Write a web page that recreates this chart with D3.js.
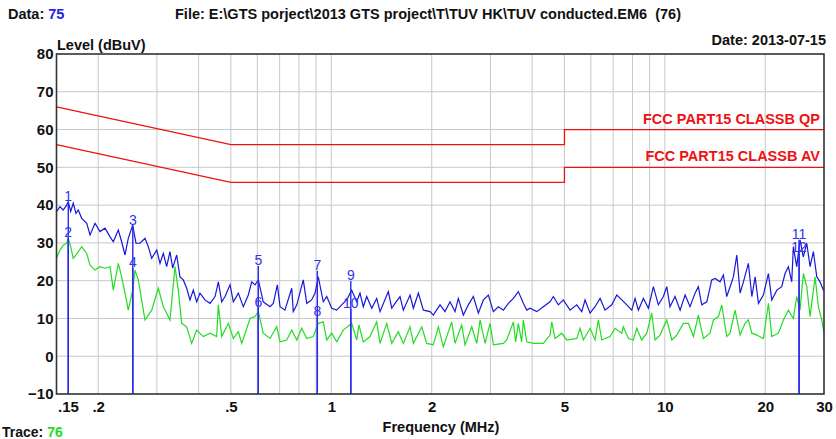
<!DOCTYPE html>
<html>
<head>
<meta charset="utf-8">
<script src="https://cdn.jsdelivr.net/npm/d3@7/dist/d3.min.js"></script>
<style>
  body { margin: 0; background: #fff; }
  svg { display: block; font-family: "Liberation Sans", Arial, sans-serif; font-weight: bold; }
</style>
</head>
<body>
<svg id="svg" width="836" height="439"></svg>
<script>
// axis ticks
const xTicks = [0.15, 0.2, 0.5, 1, 2, 5, 10, 20, 30];
const xTickLabels = [".15", ".2", ".5", "1", "2", "5", "10", "20", "30"];
const xGrid = [0.2, 0.3, 0.4, 0.5, 0.6, 0.7, 0.8, 0.9, 1, 2, 3, 4, 5, 6, 7, 8, 9, 10, 20];
const yTicks = [-10, 0, 10, 20, 30, 40, 50, 60, 70, 80];

// limit lines (MHz, dBuV)
const qpFreq = [0.15, 0.5, 5, 5, 30];
const qpLevel = [66, 56, 56, 60, 60];
const avFreq = [0.15, 0.5, 5, 5, 30];
const avLevel = [56, 46, 46, 50, 50];

// peak trace (blue)
const peakFreq = [0.150, 0.1536, 0.1571, 0.1609, 0.1627, 0.1654, 0.1684, 0.1716, 0.1743, 0.1785,
  0.1848, 0.1891, 0.1957, 0.2025, 0.2097, 0.2171, 0.2220, 0.2298, 0.2352, 0.2407,
  0.2462, 0.2538, 0.2597, 0.2669, 0.2763, 0.2827, 0.2894, 0.2996, 0.3065, 0.3136,
  0.3209, 0.3283, 0.3345, 0.3439, 0.3518, 0.3599, 0.3685, 0.3770, 0.3857, 0.3948,
  0.4039, 0.4182, 0.4329, 0.4482, 0.4585, 0.4694, 0.4802, 0.4971, 0.5085, 0.5263,
  0.5447, 0.5639, 0.5773, 0.5906, 0.6043, 0.625, 0.655, 0.670, 0.689, 0.702,
  0.726, 0.761, 0.769, 0.788, 0.824, 0.844, 0.873, 0.894, 0.914, 0.946,
  0.969, 1.003, 1.038, 1.074, 1.112, 1.151, 1.192, 1.219, 1.247, 1.277,
  1.322, 1.368, 1.400, 1.482, 1.518, 1.552, 1.607, 1.644, 1.722, 1.762,
  1.824, 1.888, 1.977, 2.022, 2.118, 2.192, 2.269, 2.349, 2.403, 2.488,
  2.575, 2.666, 2.760, 2.857, 2.957, 3.061, 3.168, 3.280, 3.395, 3.514,
  3.637, 3.765, 3.854, 3.943, 4.130, 4.321, 4.526, 4.631, 4.794, 4.962,
  5.197, 5.443, 5.634, 5.764, 5.967, 6.177, 6.394, 6.619, 6.932, 7.175,
  7.427, 7.688, 7.957, 8.141, 8.329, 8.622, 8.925, 9.238, 9.562, 9.897,
  10.13, 10.36, 10.73, 11.11, 11.50, 11.90, 12.32, 12.60, 12.90, 13.36,
  13.82, 14.14, 14.64, 14.98, 15.33, 15.69, 16.05, 16.43, 16.81, 17.20,
  17.80, 18.23, 18.65, 19.08, 19.74, 20.44, 20.92, 21.66, 22.41, 22.93,
  23.46, 24.01, 24.28, 24.85, 25.42, 26.01, 26.63, 27.25, 27.88, 28.54,
  29.20, 29.87, 30];
const peakLevel = [38.3, 39.6, 38.7, 40.0, 40.9, 38.3, 40.5, 37.8, 38.7, 36.5,
  35.2, 32.1, 35.2, 33.0, 33.9, 31.6, 30.3, 33.4, 30.3, 26.8,
  31.2, 34.7, 29.9, 29.9, 31.2, 29.0, 25.9, 28.1, 24.6, 27.2,
  23.7, 27.7, 23.3, 26.8, 21.0, 20.2, 18.0, 14.9, 17.5, 14.4,
  16.7, 14.9, 14.0, 15.8, 19.7, 14.4, 15.8, 18.9, 14.4, 16.7,
  13.1, 16.2, 19.7, 18.9, 20.2, 14.4, 13.1, 14.0, 18.9, 13.1,
  12.2, 18.0, 11.8, 13.6, 20.2, 14.0, 14.9, 16.7, 21.0, 14.4,
  15.8, 12.7, 12.2, 13.6, 14.9, 17.5, 14.4, 16.7, 13.1, 15.8,
  12.7, 15.3, 11.8, 17.1, 12.7, 14.0, 15.8, 12.2, 16.2, 12.7,
  16.7, 12.2, 11.8, 10.9, 13.6, 11.8, 14.4, 11.8, 15.3, 10.9,
  13.6, 15.8, 11.4, 14.9, 16.2, 11.8, 13.1, 12.2, 14.0, 15.3,
  17.1, 14.0, 12.2, 12.7, 11.8, 13.1, 14.4, 15.8, 13.6, 14.9,
  12.2, 13.6, 11.8, 14.9, 11.4, 13.1, 15.3, 12.2, 13.6, 16.2,
  14.9, 13.6, 12.2, 15.3, 12.2, 15.3, 12.7, 18.4, 13.6, 15.8,
  18.4, 13.1, 15.8, 12.2, 16.2, 13.1, 16.7, 18.4, 13.6, 14.4,
  20.2, 20.6, 19.7, 21.5, 15.8, 18.4, 21.0, 26.8, 16.7, 19.7,
  24.6, 15.8, 21.0, 14.0, 16.2, 21.9, 14.9, 17.5, 18.4, 21.9,
  23.7, 19.7, 29.0, 23.7, 30.8, 26.3, 29.9, 23.7, 27.7, 21.0,
  19.7, 17.5, 17.5];

// average trace (green)
const avgFreq = [0.150, 0.1536, 0.1571, 0.1609, 0.1627, 0.1654, 0.1684, 0.1716, 0.1743, 0.1785,
  0.1848, 0.1891, 0.1957, 0.2025, 0.2097, 0.2171, 0.2220, 0.2298, 0.2352, 0.2407,
  0.2462, 0.2538, 0.2579, 0.2638, 0.2763, 0.2894, 0.3029, 0.3136, 0.3209, 0.3283,
  0.3399, 0.3477, 0.3559, 0.3685, 0.3813, 0.3948, 0.4133, 0.4329, 0.4532, 0.4585,
  0.4694, 0.4913, 0.5085, 0.5263, 0.5387, 0.5706, 0.5906, 0.6043, 0.625, 0.655,
  0.686, 0.702, 0.735, 0.761, 0.788, 0.815, 0.844, 0.883, 0.914, 0.946,
  0.969, 1.003, 1.038, 1.086, 1.151, 1.192, 1.210, 1.247, 1.306, 1.368,
  1.400, 1.466, 1.518, 1.588, 1.644, 1.722, 1.762, 1.867, 1.932, 2.022,
  2.094, 2.167, 2.296, 2.349, 2.460, 2.517, 2.636, 2.729, 2.793, 2.891,
  2.991, 3.061, 3.280, 3.357, 3.514, 3.570, 3.637, 3.720, 3.765, 3.854,
  4.034, 4.130, 4.321, 4.526, 4.580, 4.686, 4.906, 5.080, 5.443, 5.568,
  5.696, 5.967, 6.177, 6.319, 6.469, 6.850, 7.090, 7.427, 7.509, 7.776,
  8.045, 8.236, 8.524, 8.825, 9.135, 9.345, 9.674, 10.13, 10.49, 10.86,
  11.36, 11.76, 12.18, 12.60, 13.04, 13.66, 13.98, 14.47, 14.81, 15.33,
  15.69, 16.24, 16.81, 17.40, 17.80, 18.23, 18.87, 19.74, 20.44, 20.92,
  21.89, 22.67, 23.46, 24.28, 24.85, 25.42, 26.01, 26.63, 27.25, 28.21,
  28.86, 29.54, 30];
const avgLevel = [25.9, 28.1, 29.4, 29.9, 31.2, 29.0, 25.9, 26.8, 27.7, 29.0,
  27.2, 24.1, 22.8, 23.7, 23.3, 23.7, 17.5, 24.6, 21.0, 16.7,
  12.2, 17.5, 22.8, 20.2, 9.6, 12.2, 18.0, 13.1, 11.4, 9.6,
  23.7, 17.5, 8.7, 7.8, 3.4, 6.9, 5.2, 6.1, 5.2, 13.6,
  5.2, 8.7, 4.7, 6.5, 3.4, 10.0, 10.5, 11.8, 6.1, 4.7,
  7.8, 3.8, 4.3, 6.9, 4.3, 7.4, 4.7, 5.2, 8.7, 9.1,
  4.3, 6.1, 3.8, 6.9, 8.7, 4.3, 8.3, 3.8, 5.2, 9.1,
  3.4, 8.7, 3.4, 6.5, 3.4, 7.8, 3.4, 7.8, 3.4, 3.0,
  7.8, 2.5, 9.1, 3.4, 8.3, 3.0, 7.8, 3.4, 9.6, 3.4,
  8.7, 3.0, 3.4, 4.3, 9.1, 3.8, 8.7, 3.8, 9.6, 3.8,
  3.4, 3.4, 3.4, 5.6, 9.1, 4.7, 6.1, 4.3, 4.7, 7.4,
  4.3, 7.4, 4.3, 9.6, 4.3, 5.2, 7.4, 6.1, 7.8, 4.7,
  4.3, 7.4, 4.3, 6.1, 11.4, 4.3, 5.6, 9.6, 4.3, 5.6,
  8.7, 8.7, 5.2, 10.9, 4.7, 6.1, 9.6, 10.5, 13.6, 5.2,
  6.1, 12.2, 5.6, 8.7, 9.6, 6.1, 5.6, 4.7, 14.0, 5.2,
  6.1, 9.6, 12.2, 10.0, 15.8, 12.2, 21.9, 18.4, 10.5, 21.0,
  13.1, 9.6, 6.1];

// markers
const markerNo = ["1", "2", "3", "4", "5", "6", "7", "8", "9", "10", "11", "12"];
const markerFreq = [0.1627, 0.1627, 0.254, 0.254, 0.604, 0.604, 0.908, 0.908, 1.144, 1.144, 25.26, 25.26];
const markerLevel = [40.9, 31.2, 34.5, 23.3, 23.9, 12.8, 22.6, 10.4, 19.9, 12.5, 30.8, 27.4];

const svg = d3.select("#svg");
const mLeft = 56.5, mRight = 824, mTop = 54, mBottom = 394;

const x = d3.scaleLog().domain([0.15, 30]).range([mLeft, mRight]);
const y = d3.scaleLinear().domain([-10, 80]).range([mBottom, mTop]);

// grid
svg.append("g").selectAll("line").data(xGrid).join("line")
  .attr("x1", d => x(d)).attr("x2", d => x(d))
  .attr("y1", mTop).attr("y2", mBottom)
  .attr("stroke", "#c8c8c8").attr("stroke-width", 1);
svg.append("g").selectAll("line").data(yTicks.slice(1, -1)).join("line")
  .attr("x1", mLeft).attr("x2", mRight)
  .attr("y1", d => y(d)).attr("y2", d => y(d))
  .attr("stroke", "#c8c8c8").attr("stroke-width", 1);

// axes (labels only)
const xAxisG = svg.append("g").attr("transform", "translate(0," + mBottom + ")")
  .call(d3.axisBottom(x).tickValues(xTicks).tickFormat((d, i) => xTickLabels[i]).tickSize(0).tickPadding(7));
const yAxisG = svg.append("g").attr("transform", "translate(" + mLeft + ",0)")
  .call(d3.axisLeft(y).tickValues(yTicks).tickFormat(d3.format("d")).tickSize(0).tickPadding(3));
[xAxisG, yAxisG].forEach(g => {
  g.select(".domain").remove();
  g.selectAll("text").attr("font-size", 15).attr("font-weight", "bold")
    .attr("font-family", "'Liberation Sans', Arial, sans-serif").attr("fill", "#111");
});
xAxisG.selectAll("text").filter((d, i) => i === 0).attr("text-anchor", "start").attr("dx", 1);

const line = d3.line().x(d => x(d[0])).y(d => y(d[1]));

// limit lines
svg.append("path").attr("d", line(d3.zip(qpFreq, qpLevel)))
  .attr("fill", "none").attr("stroke", "#ee1111").attr("stroke-width", 1.3);
svg.append("path").attr("d", line(d3.zip(avFreq, avLevel)))
  .attr("fill", "none").attr("stroke", "#ee1111").attr("stroke-width", 1.3);
svg.append("text").attr("x", 820).attr("y", y(60) - 6).attr("text-anchor", "end")
  .attr("font-size", 14.5).attr("fill", "#ee1111").text("FCC PART15 CLASSB QP");
svg.append("text").attr("x", 820).attr("y", y(50) - 6).attr("text-anchor", "end")
  .attr("font-size", 14.5).attr("fill", "#ee1111").text("FCC PART15 CLASSB AV");

// traces
svg.append("path").attr("d", line(d3.zip(avgFreq, avgLevel)))
  .attr("fill", "none").attr("stroke", "#22dd22").attr("stroke-width", 1.2);
svg.append("path").attr("d", line(d3.zip(peakFreq, peakLevel)))
  .attr("fill", "none").attr("stroke", "#1818d8").attr("stroke-width", 1.2);

// markers
const markers = d3.zip(markerNo, markerFreq, markerLevel);
svg.append("g").selectAll("line").data(markers).join("line")
  .attr("x1", d => x(d[1])).attr("x2", d => x(d[1]))
  .attr("y1", d => y(d[2])).attr("y2", mBottom)
  .attr("stroke", "#2a2aee").attr("stroke-width", 1.4);
svg.append("g").selectAll("text").data(markers).join("text")
  .attr("x", d => x(d[1])).attr("y", d => y(d[2]) - 1)
  .attr("text-anchor", "middle").attr("font-size", 14).attr("font-weight", "normal")
  .attr("fill", "#3333ee").text(d => d[0]);

// frame
svg.append("rect").attr("x", mLeft).attr("y", mTop).attr("width", mRight - mLeft).attr("height", mBottom - mTop)
  .attr("fill", "none").attr("stroke", "#333").attr("stroke-width", 1.6);

// header and titles
const hdr = svg.append("text").attr("x", 8).attr("y", 19).attr("font-size", 14.5).attr("fill", "#111");
hdr.append("tspan").text("Data: ");
hdr.append("tspan").attr("fill", "#2222ee").text("75");
svg.append("text").attr("x", 428).attr("y", 19).attr("text-anchor", "middle").attr("font-size", 14.5)
  .attr("fill", "#111").attr("xml:space", "preserve")
  .text("File: E:\\GTS porject\\2013 GTS project\\T\\TUV HK\\TUV conducted.EM6  (76)");
svg.append("text").attr("x", 826).attr("y", 45).attr("text-anchor", "end").attr("font-size", 14.5)
  .attr("fill", "#111").text("Date: 2013-07-15");
svg.append("text").attr("x", 57).attr("y", 50).attr("font-size", 14.5).attr("fill", "#111").text("Level (dBuV)");
svg.append("text").attr("x", 441).attr("y", 432).attr("text-anchor", "middle").attr("font-size", 14.5)
  .attr("fill", "#111").text("Frequency (MHz)");
const tr = svg.append("text").attr("x", 2).attr("y", 437).attr("font-size", 14).attr("fill", "#111");
tr.append("tspan").text("Trace: ");
tr.append("tspan").attr("fill", "#22dd22").text("76");
</script>
</body>
</html>
